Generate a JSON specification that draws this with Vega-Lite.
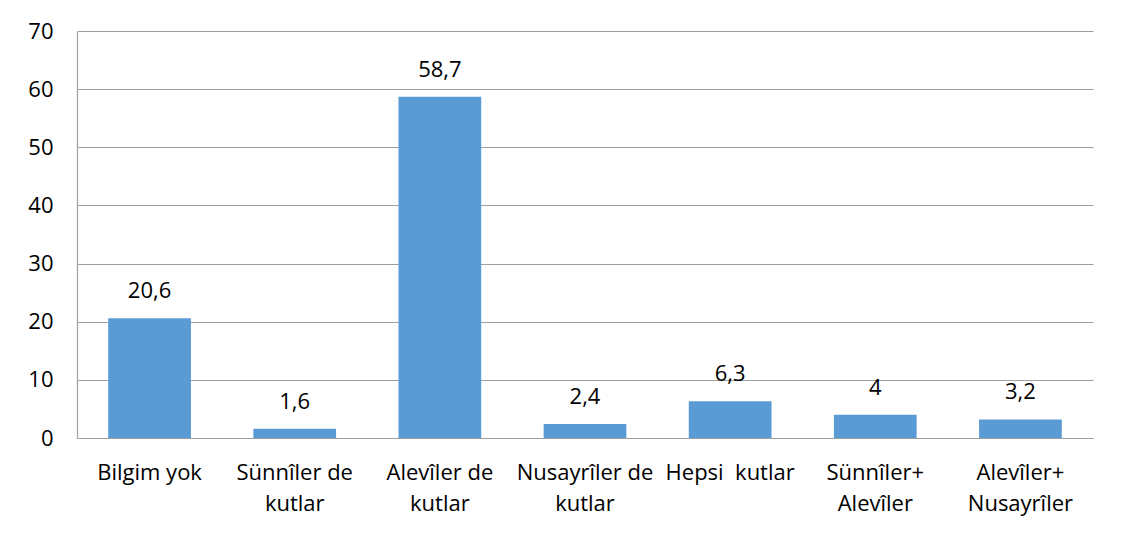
{
  "$schema": "https://vega.github.io/schema/vega-lite/v6.json",
  "width": 1016,
  "height": 407,
  "autosize": {"type": "none"},
  "padding": {"left": 77, "top": 31, "right": 30, "bottom": 97},
  "background": "white",
  "data": {"values": [
    {"k": "Bilgim yok", "v": 20.6},
    {"k": "Sünnîler de\nkutlar", "v": 1.6},
    {"k": "Alevîler de\nkutlar", "v": 58.7},
    {"k": "Nusayrîler de\nkutlar", "v": 2.4},
    {"k": "Hepsi\u00a0 kutlar", "v": 6.3},
    {"k": "Sünnîler+\nAlevîler", "v": 4},
    {"k": "Alevîler+\nNusayrîler", "v": 3.2}
  ]},
  "config": {
    "locale": {"number": {"decimal": ",", "thousands": ".", "grouping": [3], "currency": ["", ""]}},
    "view": {"stroke": null},
    "font": "Open Sans"
  },
  "encoding": {
    "x": {"field": "k", "type": "nominal", "sort": null,
      "scale": {"paddingInner": 0.43, "paddingOuter": 0.215},
      "axis": {"title": null, "labelAngle": 0, "labelExpr": "split(datum.label, '\\n')", "labelFontSize": 22, "labelColor": "#000000", "labelFont": "Open Sans", "labelPadding": 24, "labelLineHeight": 31, "ticks": false, "domainColor": "#a0a0a0", "domainWidth": 1.2, "labelBaseline": "top"}},
    "y": {"field": "v", "type": "quantitative",
      "scale": {"domain": [0, 70], "nice": false},
      "axis": {"title": null, "values": [0,10,20,30,40,50,60,70], "labelFontSize": 22, "labelColor": "#000000", "labelFont": "Open Sans", "labelPadding": 24, "ticks": false, "gridColor": "#a0a0a0", "gridWidth": 1.2, "domainColor": "#a0a0a0", "domainWidth": 1.2}}
  },
  "layer": [
    {"mark": {"type": "bar", "color": "#5b9bd5"}},
    {"mark": {"type": "text", "baseline": "bottom", "dy": -15, "fontSize": 22, "font": "Open Sans", "color": "#000000"},
     "encoding": {"text": {"field": "v", "type": "quantitative", "format": ".1~f"}}}
  ]
}
